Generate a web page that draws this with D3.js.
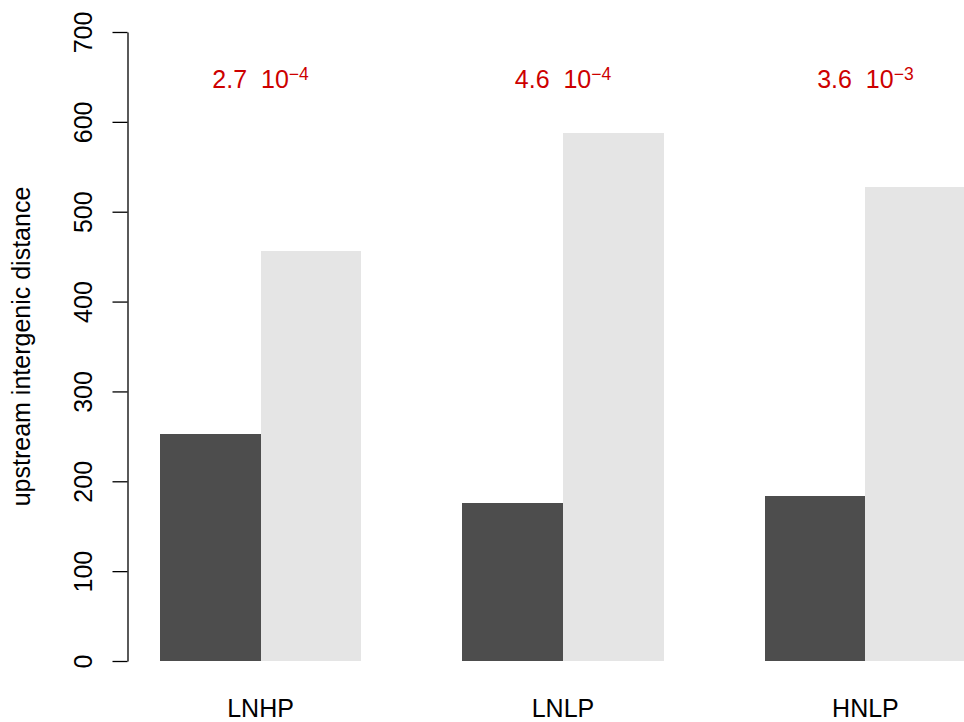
<!DOCTYPE html>
<html>
<head>
<meta charset="utf-8">
<script src="https://cdn.jsdelivr.net/npm/d3@7"></script>
<style>
  html, body { margin: 0; padding: 0; background: #ffffff; }
  svg { display: block; font-family: "Liberation Sans", Arial, Helvetica, sans-serif; }
</style>
</head>
<body>
<svg id="chart" width="964" height="722"></svg>
<script>
// Groups along the x axis
const categories = ["LNHP", "LNLP", "HNLP"];
// Two series per group (dark = first bar, light = second bar)
const seriesDark  = [252.6, 175.8, 183.6];
const seriesLight = [456.4, 587.6, 527.5];
// p-value annotations per group: mantissa and exponent
const pMantissa = ["2.7", "4.6", "3.6"];
const pExponent = ["\u22124", "\u22124", "\u22123"];
// Y axis ticks
const yTicks = [0, 100, 200, 300, 400, 500, 600, 700];

const W = 964, H = 722;
const svg = d3.select("#chart");

const fontSize = 25;
const colDark = "#4d4d4d", colLight = "#e5e5e5", colNote = "#cd0000";

// x in bar-width units: each group takes 1 unit of space + 2 bars
const x = d3.scaleLinear().domain([0.68, 9.32]).range([127.5, 998.5]);
const y = d3.scaleLinear().domain([0, 700]).range([661, 32]);

const groupStart = i => 1 + 3 * i;

// bars
const bars = [];
categories.forEach((c, i) => {
  bars.push({ x0: groupStart(i),     v: seriesDark[i],  fill: colDark });
  bars.push({ x0: groupStart(i) + 1, v: seriesLight[i], fill: colLight });
});
svg.append("g").selectAll("rect").data(bars).join("rect")
  .attr("x", d => x(d.x0))
  .attr("width", d => x(d.x0 + 1) - x(d.x0))
  .attr("y", d => y(d.v))
  .attr("height", d => y(0) - y(d.v))
  .attr("fill", d => d.fill)
  .attr("shape-rendering", "crispEdges");

// y axis
const axisX = x(0.68);
const gy = svg.append("g")
  .attr("transform", `translate(${axisX},0)`)
  .call(d3.axisLeft(y).tickValues(yTicks).tickSize(15).tickSizeOuter(0).tickFormat(d3.format("d")));
gy.select(".domain").attr("stroke", "#000").attr("stroke-width", 1.3);
gy.selectAll(".tick line").attr("stroke", "#000").attr("stroke-width", 1.3);
gy.selectAll(".tick text")
  .attr("transform", "rotate(-90)")
  .attr("x", 0).attr("y", -36).attr("dy", 0)
  .attr("text-anchor", "middle")
  .attr("fill", "#000")
  .style("font-size", fontSize + "px")
  .style("font-family", "\"Liberation Sans\", Arial, sans-serif");

// y axis title
svg.append("text")
  .attr("transform", `translate(30,${(y(0) + y(700)) / 2}) rotate(-90)`)
  .attr("text-anchor", "middle")
  .style("font-size", fontSize + "px")
  .attr("fill", "#000")
  .text("upstream intergenic distance");

// category labels under each group
svg.append("g").selectAll("text").data(categories).join("text")
  .attr("x", (d, i) => x(groupStart(i) + 1))
  .attr("y", 717)
  .attr("text-anchor", "middle")
  .style("font-size", fontSize + "px")
  .attr("fill", "#000")
  .text(d => d);

// p-value annotations above each group
const noteY = 650;
const notes = svg.append("g").selectAll("text").data(categories).join("text")
  .attr("x", (d, i) => x(groupStart(i) + 1))
  .attr("y", y(noteY) + 11)
  .attr("text-anchor", "middle")
  .attr("fill", colNote)
  .style("font-size", fontSize + "px")
  .style("white-space", "pre")
  .attr("xml:space", "preserve");
notes.append("tspan").text((d, i) => pMantissa[i] + "  10");
notes.append("tspan")
  .attr("dy", -8)
  .style("font-size", (fontSize * 0.7) + "px")
  .text((d, i) => pExponent[i]);
</script>
</body>
</html>
